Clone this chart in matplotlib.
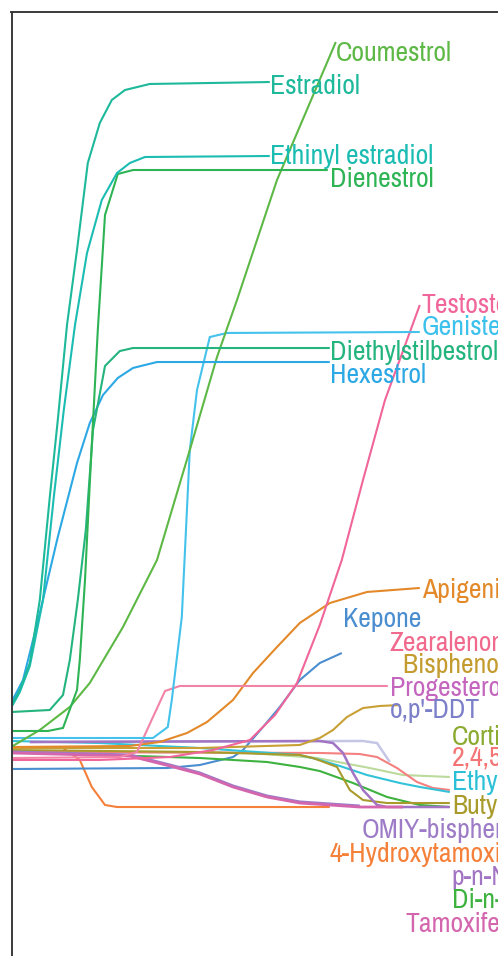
import matplotlib
matplotlib.use("Agg")
import matplotlib.pyplot as plt

# dose-response curves: x = log10 concentration (M), y = relative response (%)
coumestrol_x = [-12.0, -11.28, -10.53, -10.03, -9.20, -8.35, -7.53, -6.85, -6.35, -5.35, -3.88]
coumestrol_y = [6.14, 8.57, 11.86, 15.29, 23.29, 32.86, 48.57, 61.86, 70.0, 87.14, 106.86]

estradiol_x = [-12.0, -11.78, -11.53, -11.28, -11.03, -10.83, -10.60, -10.35, -10.08, -9.78, -9.48, -9.15, -8.53, -5.53]
estradiol_y = [12.0, 14.29, 18.14, 27.14, 41.86, 52.86, 66.43, 77.14, 89.57, 95.29, 98.57, 100.0, 100.86, 101.14]

ethinyl_x = [-12.0, -11.78, -11.53, -11.20, -10.93, -10.68, -10.40, -10.10, -9.73, -9.35, -9.03, -8.65, -5.53]
ethinyl_y = [11.71, 14.0, 17.71, 27.14, 41.86, 54.29, 66.43, 76.71, 84.29, 88.14, 89.57, 90.43, 90.57]

dienestrol_x = [-12.0, -11.08, -10.70, -10.35, -10.28, -10.15, -10.03, -9.83, -9.65, -9.33, -8.95, -4.08]
dienestrol_y = [8.43, 8.43, 8.86, 14.29, 18.57, 30.0, 43.86, 65.71, 82.14, 88.0, 88.57, 88.57]

des_x = [-12.0, -11.03, -10.70, -10.53, -10.33, -10.13, -9.95, -9.65, -9.28, -8.95, -4.03]
des_y = [11.14, 11.43, 13.57, 18.57, 27.14, 37.14, 51.43, 60.57, 62.71, 63.14, 63.14]

hexestrol_x = [-12.0, -11.70, -11.28, -10.83, -10.35, -10.03, -9.70, -9.33, -8.95, -8.35, -4.03]
hexestrol_y = [12.43, 15.71, 25.29, 36.14, 46.71, 52.43, 56.43, 58.86, 60.29, 61.14, 61.14]

genistein_x = [-12.0, -8.45, -8.08, -7.98, -7.73, -7.53, -7.35, -7.03, -6.60, -1.78]
genistein_y = [7.43, 7.43, 9.0, 12.86, 24.71, 48.57, 57.14, 64.71, 65.29, 65.43]

testosterone_x = [-12.0, -9.78, -8.03, -6.95, -6.03, -5.40, -4.85, -4.28, -3.73, -3.20, -2.65, -2.10, -1.78]
testosterone_y = [4.29, 4.29, 4.71, 5.71, 7.14, 10.71, 15.29, 23.57, 32.86, 44.29, 55.71, 64.29, 69.29]

apigenin_x = [-12.0, -9.03, -8.28, -7.60, -7.10, -6.45, -5.95, -5.35, -4.78, -4.03, -3.10, -1.78]
apigenin_y = [6.14, 6.29, 6.86, 8.14, 9.71, 12.86, 16.71, 20.43, 23.86, 26.71, 28.29, 28.86]

kepone_x = [-12.0, -8.10, -7.28, -6.45, -6.20, -5.70, -5.28, -4.78, -4.28, -3.73]
kepone_y = [3.0, 3.14, 3.57, 4.71, 5.71, 9.0, 11.86, 15.71, 18.14, 19.57]

zearalenone_x = [-12.0, -9.28, -8.85, -8.45, -8.15, -7.78, -2.58]
zearalenone_y = [4.57, 4.71, 5.43, 10.43, 14.14, 14.86, 14.86]

bpa_x = [-12.0, -7.28, -4.78, -4.28, -3.95, -3.60, -3.20, -2.78, -2.28]
bpa_y = [6.0, 6.0, 6.43, 7.43, 8.57, 10.43, 11.71, 12.0, 12.14]

ddt_x = [-11.53, -3.20, -2.85, -2.53]
ddt_y = [6.86, 7.0, 6.71, 4.0]

cort_x = [-12.0, -6.03, -4.35, -3.03, -2.20, -1.03]
cort_y = [5.57, 5.29, 4.57, 3.14, 2.14, 1.86]

t245_x = [-12.0, -4.28, -3.28, -2.85, -2.35, -1.85, -1.45, -1.03]
t245_y = [5.43, 5.29, 5.14, 4.71, 3.14, 1.14, 0.29, 0.0]

ethylpb_x = [-12.0, -9.78, -7.28, -4.78, -4.28, -3.78, -3.10, -2.28, -1.78, -1.03]
ethylpb_y = [7.0, 6.71, 6.0, 5.0, 4.29, 3.43, 2.14, 1.0, 0.43, -0.29]

butylpb_x = [-12.0, -7.28, -4.78, -4.45, -3.85, -3.53, -3.20, -2.60, -1.03]
butylpb_y = [5.71, 5.43, 5.0, 4.57, 3.29, 0.0, -1.43, -1.86, -1.86]

omiy_x = [-12.0, -9.03, -8.03, -7.28, -6.45, -5.60, -4.78, -3.28]
omiy_y = [5.43, 5.0, 3.57, 2.43, 0.57, -0.86, -1.71, -2.29]

ohtam_x = [-12.0, -10.70, -10.28, -9.98, -9.65, -9.35, -4.03]
ohtam_y = [6.0, 6.0, 4.29, 0.43, -2.14, -2.43, -2.43]

nonyl_x = [-11.53, -4.28, -3.95, -3.70, -3.45, -3.20, -2.85, -2.60, -1.03]
nonyl_y = [6.86, 7.0, 6.71, 5.29, 2.43, 0.0, -2.14, -2.43, -2.43]

dbp_x = [-12.0, -7.28, -5.60, -4.78, -4.28, -3.45, -2.60, -1.78, -1.03]
dbp_y = [5.43, 4.57, 4.0, 3.29, 2.71, 1.0, -1.0, -2.14, -2.43]

tamox_x = [-12.0, -9.03, -8.03, -7.28, -6.45, -5.60, -4.78, -3.28, -2.20]
tamox_y = [5.29, 4.86, 3.43, 2.29, 0.43, -1.0, -1.86, -2.43, -2.43]

# (x, y, line colour, line width) in drawing order
curves = [
    (ohtam_x, ohtam_y, "#F5803A", 1.5),
    (kepone_x, kepone_y, "#4B8ED0", 1.5),
    (cort_x, cort_y, "#BCDA9C", 1.5),
    (t245_x, t245_y, "#F48080", 1.5),
    (ethylpb_x, ethylpb_y, "#33C3D9", 1.5),
    (dbp_x, dbp_y, "#3DB23F", 1.5),
    (butylpb_x, butylpb_y, "#A89B2C", 1.5),
    (ddt_x, ddt_y, "#C5C6E6", 1.8),
    (nonyl_x, nonyl_y, "#A274C4", 1.8),
    (omiy_x, omiy_y, "#9D7BC6", 2.2),
    (tamox_x, tamox_y, "#D466AE", 2.0),
    (bpa_x, bpa_y, "#C8A035", 1.5),
    (apigenin_x, apigenin_y, "#E3892A", 1.5),
    (zearalenone_x, zearalenone_y, "#F283A6", 1.5),
    (testosterone_x, testosterone_y, "#F0659A", 1.5),
    (genistein_x, genistein_y, "#45C2EC", 1.5),
    (coumestrol_x, coumestrol_y, "#5DB845", 1.5),
    (hexestrol_x, hexestrol_y, "#2CA8E4", 1.5),
    (des_x, des_y, "#24B47E", 1.5),
    (dienestrol_x, dienestrol_y, "#2EB455", 1.5),
    (ethinyl_x, ethinyl_y, "#1BBCB2", 1.5),
    (estradiol_x, estradiol_y, "#1DB99A", 1.5),
]

label_names = ["Coumestrol", "Estradiol", "Ethinyl estradiol", "Dienestrol",
               "Testosterone", "Genistein", "Diethylstilbestrol", "Hexestrol",
               "Apigenin", "Kepone", "Zearalenone", "Bisphenol A", "Progesterone",
               "o,p'-DDT", "Corticosterone", "2,4,5-T", "Ethylparaben",
               "Butylparaben", "OMIY-bisphenol", "4-Hydroxytamoxifen",
               "p-n-Nonylphenol", "Di-n-butyl phthalate", "Tamoxifen"]
label_colors = ["#5DB845", "#1DB99A", "#1BBCB2", "#2EB455",
                "#F0659A", "#3CC0EC", "#24B47E", "#2CA8E4",
                "#E3892A", "#4B8ED0", "#F06A8E", "#C49B2E", "#C466BE",
                "#7C80C8", "#8BAA30", "#F37575", "#2CC0D8",
                "#A89B2C", "#9D7BC6", "#F5803A",
                "#A274C4", "#3DB23F", "#D466AE"]
# label anchors (left, baseline) in data units
label_x = [-3.88, -5.53, -5.53, -4.03, -1.73, -1.73, -4.03, -4.03,
           -1.73, -3.70, -2.53, -2.20, -2.53, -2.53, -0.98, -0.98, -0.98,
           -0.98, -3.23, -4.03, -0.98, -0.98, -2.15]
label_y = [104.14, 99.43, 89.43, 86.14, 68.14, 65.0, 61.43, 58.14,
           27.43, 23.29, 19.86, 16.71, 13.43, 10.29, 6.43, 3.43, 0.0,
           -3.43, -6.86, -10.29, -13.57, -16.86, -20.29]

W, H = 498, 956
fig = plt.figure(figsize=(W / 100, H / 100), dpi=100)

# the panel is cropped: only its left and top edges fall inside the picture
left_px, top_px = 11.5, 12.0
ax_w, ax_b = 1.5, -0.2
ax_top = 1 - top_px / H
ax = fig.add_axes([left_px / W, ax_b, ax_w, ax_top - ax_b])

px_per_decade, px_per_unit = 40.0, 7.0
x0 = -12.0 + (left_px - 11) / px_per_decade
x1 = x0 + ax_w * W / px_per_decade
y_top = (790 - top_px) / px_per_unit
y_bot = y_top - (ax_top - ax_b) * H / px_per_unit
ax.set_xlim(x0, x1)
ax.set_ylim(y_bot, y_top)

for xs, ys, c, lw in curves:
    ax.plot(xs, ys, color=c, lw=lw, solid_capstyle="butt", solid_joinstyle="miter")

for name, c, lx, ly in zip(label_names, label_colors, label_x, label_y):
    ax.text(lx, ly, name, color=c, fontsize=20, ha="left", va="baseline",
            family=["Archivo Narrow", "Liberation Sans"], clip_on=False)

for s in ["right", "bottom"]:
    ax.spines[s].set_visible(False)
for s in ["left", "top"]:
    ax.spines[s].set_color("#3a3a3a")
    ax.spines[s].set_linewidth(1.4)
ax.set_xticks([])
ax.set_yticks([])

fig.savefig("out.png", dpi=100)
